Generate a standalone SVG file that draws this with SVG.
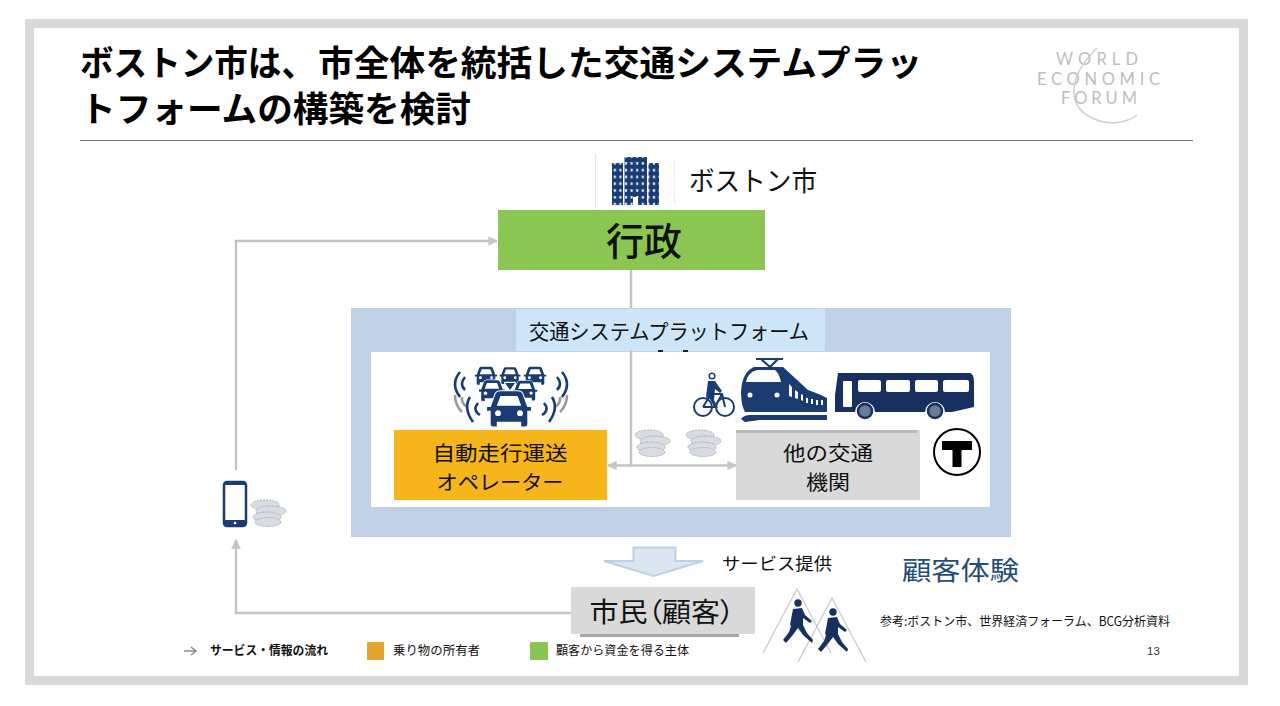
<svg xmlns="http://www.w3.org/2000/svg" xmlns:xlink="http://www.w3.org/1999/xlink" width="1280" height="706" viewBox="0 0 1280 706">
<style>
text{font-family:"Noto Sans CJK JP","Noto Sans",sans-serif;fill:#111}
.title{font-size:35px;font-weight:700;fill:#000}
.m{text-anchor:middle}
.lab{font-size:20px}
.leg{font-size:12.5px}
.wef{font-family:"Lato","Liberation Sans",sans-serif;font-size:16.500px;fill:#bdbdbd;text-anchor:middle}
.conn{fill:none;stroke:#c4c4c4;stroke-width:2.400}
.navy{fill:#1b3c73}
.dark{fill:#17305f}
.coin{fill:#d9dde3;stroke:#a9b1bc;stroke-width:1;stroke-dasharray:2 1}
.ped{fill:none;stroke:#c4c7ca;stroke-width:1.200}
.wv{fill:none;stroke:#1b3c73;stroke-width:2.600}
.wg{fill:none;stroke:#9a9a9a;stroke-width:2.600}
.cb{fill:#1b3c73;stroke:#fff;stroke-width:1.600;paint-order:stroke}
</style>
<defs>
<marker id="ah" viewBox="0 0 10 10" refX="9" refY="5" markerWidth="4" markerHeight="4" markerUnits="strokeWidth" orient="auto-start-reverse"><path d="M0 0L10 5L0 10Z" fill="#c4c4c4"/></marker>
<pattern id="win" width="5.600" height="6.800" patternUnits="userSpaceOnUse" x="612" y="160"><rect width="5.600" height="6.800" fill="#1b3c73"/><rect x="1.700" y="2" width="2.200" height="2.600" fill="#dfe6f0"/></pattern>
<g id="coins">
<ellipse class="coin" cx="15" cy="6" rx="14" ry="5"/>
<ellipse class="coin" cx="21" cy="12" rx="15" ry="5"/>
<ellipse class="coin" cx="17" cy="18" rx="14" ry="5"/>
<ellipse class="coin" cx="18" cy="23" rx="13" ry="4.500"/>
</g>
<g id="car">
<path class="cb" d="M-15 -2 L-11 -13 Q-10 -15 -7 -15 H7 Q10 -15 11 -13 L15 -2 H18 V1 H15 V12 Q15 14 13 14 H10 V10 H-10 V14 H-13 Q-15 14 -15 12 V1 H-18 V-2 Z"/>
<path fill="#fff" d="M-10 -3 L-7 -11 H7 L10 -3 Z"/>
<circle cx="-9" cy="3" r="2.400" fill="#fff"/><circle cx="9" cy="3" r="2.400" fill="#fff"/>
</g>
<g id="walker">
<circle cx="0" cy="0" r="3.700" class="dark"/>
<path class="dark" d="M-5 6 L4 5 L7 12 L14 18 L12 20 L5 15 L5 22 L9 30 L15 37 L14 40 L5 32 L0 25 L-6 33 L-12 40 L-15 37 L-9 29 L-6 20 L-5 24 L-8 22 Z"/>
</g>
<g id="waves">
<path class="wg" d="M455 395Q455 405 462 412M462 397Q461 403 467 407"/>
<path class="wv" d="M460 372Q450 384 460 397M465 377Q459 384 465 390M470 397Q463 408 473 422M478 403Q472 410 480 415"/>
</g>
</defs>

<rect width="1280" height="706" fill="#fff"/>
<rect x="29.500" y="23.500" width="1214" height="657" fill="#fff" stroke="#d9d9d9" stroke-width="9"/>

<g id="title">
<text class="title" x="80" y="76" textLength="235" lengthAdjust="spacingAndGlyphs">ボストン市は、</text>
<text class="title" x="318" y="76" textLength="604" lengthAdjust="spacingAndGlyphs">市全体を統括した交通システムプラッ</text>
<text class="title" x="80" y="122" textLength="391" lengthAdjust="spacingAndGlyphs">トフォームの構築を検討</text>
<rect x="80" y="140" width="1113" height="1" fill="#777"/>
</g>

<g id="wef-logo">
<text class="wef" x="1097" y="65" textLength="82">WORLD</text>
<text class="wef" x="1098.500" y="85" textLength="123">ECONOMIC</text>
<text class="wef" x="1099" y="104" textLength="76">FORUM</text>
<path d="M1097 48 C1072 72 1063 104 1092 118 C1108 126 1127 123 1137 115" fill="none" stroke="#cfcfcf" stroke-width="1.500"/>
</g>

<g id="connectors">
<path class="conn" d="M631 270V308"/>
<path class="conn" d="M236 470V241H497" marker-end="url(#ah)"/>
<path class="conn" d="M571 613H236V540" marker-end="url(#ah)"/>
</g>

<g id="platform">
<rect x="351" y="308" width="660" height="229" fill="#c0d1e7"/>
<rect x="516" y="309" width="309" height="42" fill="#cde5f6"/>
<text class="m" font-size="21" x="669" y="339" textLength="280" lengthAdjust="spacingAndGlyphs">交通システムプラットフォーム</text>
<rect x="371" y="352" width="619" height="155" fill="#fff"/>
<path class="conn" d="M631 350V465"/>
<path class="conn" d="M608 465.500H736" marker-start="url(#ah)" marker-end="url(#ah)"/>
<rect x="658" y="350" width="5" height="2" fill="#222"/><rect x="683" y="350" width="5" height="2" fill="#222"/>
</g>

<g id="boston">
<rect x="595" y="154" width="1" height="55" fill="#e6e6e6"/>
<rect x="674" y="160" width="1" height="45" fill="#eeeeee"/>
<rect x="612" y="163" width="11" height="42" fill="url(#win)"/>
<rect x="624.500" y="157" width="22.500" height="48" fill="url(#win)"/>
<rect x="648.500" y="163" width="10.500" height="42" fill="url(#win)"/>
<rect x="633" y="197" width="5" height="8" fill="#fff"/>
<text x="689" y="191" font-size="27" textLength="128" lengthAdjust="spacingAndGlyphs">ボストン市</text>
</g>

<g id="gyosei">
<rect x="498" y="210" width="267" height="60" fill="#8bc652"/>
<text class="m" x="644" y="255" font-size="38" font-weight="500">行政</text>
</g>

<g id="operator">
<use xlink:href="#waves"/>
<use xlink:href="#waves" transform="translate(1022 0) scale(-1 1)"/>
<use xlink:href="#car" transform="translate(486 376) scale(.62)"/>
<use xlink:href="#car" transform="translate(510 376) scale(.58)"/>
<use xlink:href="#car" transform="translate(535 376) scale(.62)"/>
<use xlink:href="#car" transform="translate(492 391) scale(.72)"/>
<use xlink:href="#car" transform="translate(525 391) scale(.68)"/>
<path class="navy" d="M505 383H515L510 390Z"/>
<use xlink:href="#car" transform="translate(509 409.500) scale(1.220)"/>
<rect x="394" y="430" width="213" height="70" fill="#f5b51b"/>
<text class="m lab" x="500" y="460.500" textLength="135" lengthAdjust="spacingAndGlyphs">自動走行運送</text>
<text class="m lab" x="500" y="489.500" textLength="127" lengthAdjust="spacingAndGlyphs">オペレーター</text>
</g>

<g id="transit">
<g id="bike" fill="none" stroke="#1b3c73" stroke-width="2">
<circle cx="703" cy="407" r="9"/><circle cx="725" cy="407" r="9"/>
<path d="M703 407L711 394H722L725 407M711 394L715 407H703M715 407L722 394"/>
</g>
<circle cx="712" cy="376" r="2.800" fill="none" stroke="#1b3c73" stroke-width="1.500"/>
<path class="navy" d="M708 381H715L722 391L720 393L715 389L714 400L718 408H715L710 399L706 397Z"/>
<g id="train">
<path fill="none" stroke="#1b3c73" stroke-width="2.200" d="M756 359H783M761 359L770 367L778 359"/>
<path class="navy" d="M741 392Q742 372 754 367H783L808 390Q822 395 827 398V412H745Q741 405 741 392Z"/>
<path fill="#fff" d="M746 382Q748 372 757 370H775Q779 373 781 382Z"/>
<circle cx="750" cy="395" r="2.500" fill="#fff"/><circle cx="777" cy="395" r="2.500" fill="#fff"/>
<path fill="#fff" d="M789 384l3 3v10l-3-1zM795 390l3 2v7l-3-1zM801 394l2 1v6l-2-1zM806 398h2v5h-2zM811 399h2v5h-2zM816 400h2v5h-2zM821 400h2v5h-2z"/>
<path class="navy" d="M741 419Q744 415 750 415H827V420H760L745 422Z"/>
</g>
<g id="bus">
<path class="dark" d="M838 373H970Q974 374 974 382V407L952 412H835V395Z"/>
<rect x="843" y="381" width="9" height="26" rx="1" fill="#fff"/>
<g fill="#fff"><rect x="858" y="380" width="23" height="12" rx="2"/><rect x="886" y="380" width="24" height="12" rx="2"/><rect x="915" y="380" width="23" height="12" rx="2"/><rect x="943" y="380" width="26" height="12" rx="2"/></g>
<path fill="#fff" d="M855 412a10 10 0 0 1 20 0zM925 412a10 10 0 0 1 20 0z"/>
<circle cx="865" cy="411" r="7" fill="#6b7b97" stroke="#17305f" stroke-width="2.500"/>
<circle cx="935" cy="411" r="7" fill="#6b7b97" stroke="#17305f" stroke-width="2.500"/>
</g>
<rect x="736" y="430" width="184" height="70" fill="#d9d9d9"/>
<rect x="736" y="430" width="181" height="3" fill="#b7b7b7"/>
<text class="m lab" x="828" y="460.500" textLength="90" lengthAdjust="spacingAndGlyphs">他の交通</text>
<text class="m lab" x="828" y="489.500" textLength="44" lengthAdjust="spacingAndGlyphs">機関</text>
<g id="t-logo">
<circle cx="957" cy="452" r="23" fill="#fff" stroke="#000" stroke-width="2"/>
<path d="M942 441H972V450H961.500V467H952.500V450H942Z" fill="#000"/>
</g>
</g>

<g id="coins-mid">
<use xlink:href="#coins" x="634" y="429"/>
<use xlink:href="#coins" x="685" y="429"/>
</g>

<g id="phone">
<rect x="224" y="482" width="22" height="44" rx="3" fill="#fff" stroke="#1b3c73" stroke-width="2.500"/>
<rect x="224" y="520" width="22" height="6" fill="#1b3c73"/>
<circle cx="235" cy="523" r="1.300" fill="#fff"/>
<rect x="224" y="482" width="22" height="3" fill="#1b3c73"/>
<use xlink:href="#coins" x="250" y="499"/>
</g>

<g id="service">
<path d="M633.500 547.500H675.500V561H703L653.500 576L604 561H633.500Z" fill="#dbe6f3" stroke="#bcd0e7" stroke-width="2"/>
<text x="722" y="570" font-size="17" textLength="110" lengthAdjust="spacingAndGlyphs">サービス提供</text>
</g>

<g id="citizen">
<rect x="580" y="634" width="159" height="3" fill="#a6a6a6"/>
<rect x="571" y="587" width="184" height="47" fill="#d9d9d9"/>
<text class="m" x="662" y="622" font-size="27" textLength="145" lengthAdjust="spacingAndGlyphs" style="font-feature-settings:'palt'">市民（顧客）</text>
<path class="ped" d="M763 653L797 589L831 653M798 662L832 598L866 662"/>
<use xlink:href="#walker" x="798" y="603"/>
<use xlink:href="#walker" x="833" y="612"/>
</g>

<text id="cx" x="902" y="580" font-size="26.500" style="fill:#1f4e79" textLength="117" lengthAdjust="spacingAndGlyphs">顧客体験</text>
<text id="ref" x="880" y="626" font-size="12.500" textLength="290" lengthAdjust="spacingAndGlyphs">参考:ボストン市、世界経済フォーラム、BCG分析資料</text>
<text id="page" x="1147" y="655" font-size="11.500" style="font-family:'Liberation Sans',sans-serif;fill:#333">13</text>

<g id="legend">
<path d="M184 651H195M191 647L196 651L191 655" fill="none" stroke="#8c8c8c" stroke-width="1.500"/>
<text class="leg" x="210" y="655" font-weight="700" textLength="118" lengthAdjust="spacingAndGlyphs">サービス・情報の流れ</text>
<rect x="367" y="642" width="17" height="18" rx="1" fill="#e5a332"/>
<text class="leg" x="393" y="655" textLength="87" lengthAdjust="spacingAndGlyphs">乗り物の所有者</text>
<rect x="530" y="642" width="18" height="18" rx="1" fill="#88c551"/>
<text class="leg" x="556" y="655" textLength="133" lengthAdjust="spacingAndGlyphs">顧客から資金を得る主体</text>
</g>
</svg>
